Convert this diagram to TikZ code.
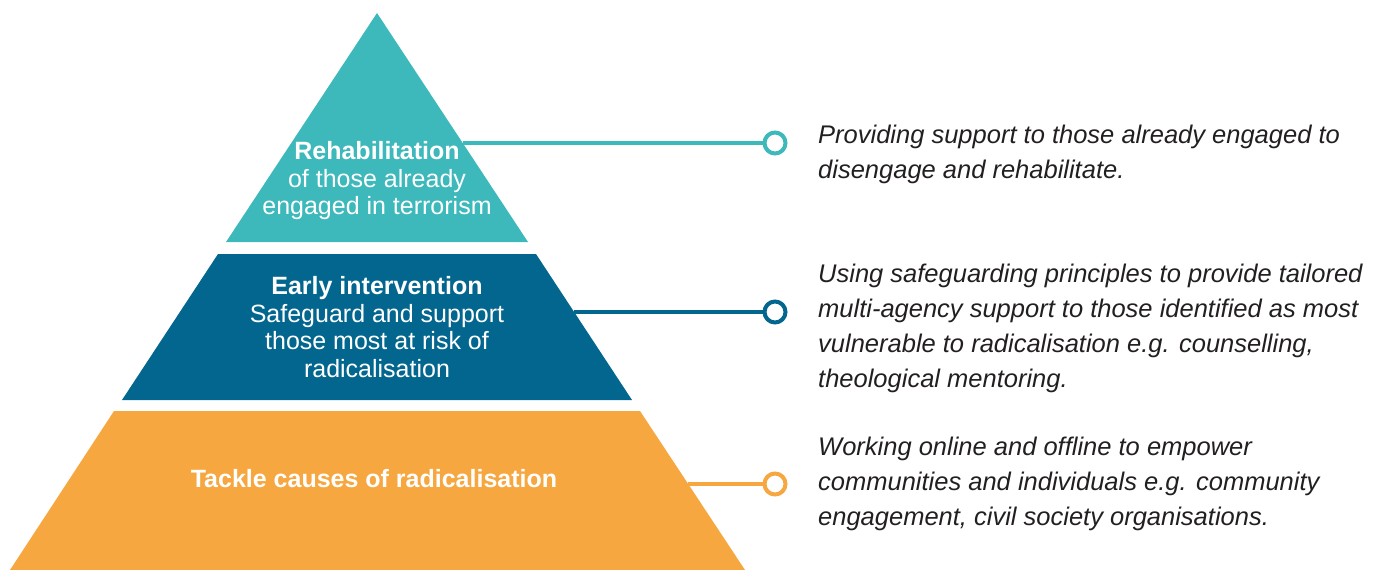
\documentclass[tikz,border=0pt]{standalone}
\usepackage{fontspec}
\setmainfont{Liberation Sans}
\definecolor{teal1}{HTML}{3DB8BB}
\definecolor{blue1}{HTML}{03668E}
\definecolor{orange1}{HTML}{F7A73F}
\definecolor{txt}{HTML}{231F20}
\tikzset{
  tiertext/.style={text=white, align=center, inner sep=0pt, font=\fontsize{25}{27.5}\selectfont},
  desc/.style={text=txt, align=left, anchor=west, inner sep=0pt, font=\fontsize{25.5}{35}\selectfont\itshape},
  link/.style={line width=4pt},
  ring/.style={circle, draw, line width=4pt, fill=white, minimum size=21pt, inner sep=0pt},
}
\begin{document}
\begin{tikzpicture}[x=1pt,y=-1pt]
\useasboundingbox (0,0) rectangle (1376,570);
% shapes
\fill[teal1] (377,13) -- (528,242) -- (226,242) -- cycle;
\fill[blue1] (218,254) -- (536,254) -- (632,400) -- (122,400) -- cycle;
\fill[orange1] (114,411) -- (640,411) -- (745,570) -- (10,570) -- cycle;
% edge points
\coordinate (e1) at (463,143);
\coordinate (e2) at (574,312);
\coordinate (e3) at (688,484);
% rings
\node[ring, draw=teal1] (c1) at (775,143) {};
\node[ring, draw=blue1] (c2) at (775,312) {};
\node[ring, draw=orange1] (c3) at (775,484) {};
\draw[link, teal1] (e1) -- (c1);
\draw[link, blue1] (e2) -- (c2);
\draw[link, orange1] (e3) -- (c3);
% tier texts
\node[tiertext] (t1) at (377,181) {\textbf{Rehabilitation}\\of those already\\engaged in terrorism};
\node[tiertext] (t2) at (377,327) {\textbf{Early intervention}\\Safeguard and support\\those most at risk of\\radicalisation};
\node[tiertext] (t3) at (374,479) {\textbf{Tackle causes of radicalisation}};
% descriptions
\node[desc] (d1) at (818,154) {Providing support to those already engaged to\\disengage and rehabilitate.};
\node[desc] (d2) at (818,328) {Using safeguarding principles to provide tailored\\multi-agency support to those identified as most\\vulnerable to radicalisation e.g. counselling,\\theological mentoring.};
\node[desc] (d3) at (818,484) {Working online and offline to empower\\communities and individuals e.g. community\\engagement, civil society organisations.};
\end{tikzpicture}
\end{document}
